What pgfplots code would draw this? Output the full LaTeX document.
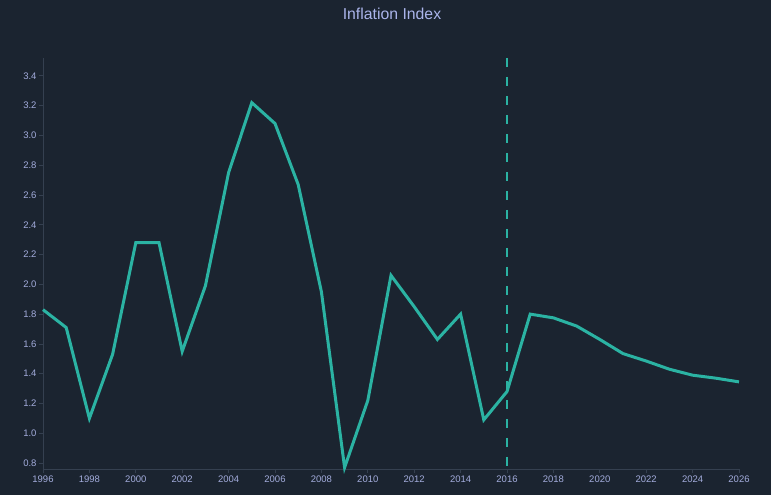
\documentclass[border=0pt]{standalone}
\usepackage{pgfplots}
\pgfplotsset{compat=1.18}
\usepackage{fontspec}
\setmainfont{Liberation Sans}
\definecolor{bg}{HTML}{1B2430}
\definecolor{lineteal}{HTML}{2BB3A3}
\definecolor{lav}{HTML}{A3ACDC}
\definecolor{titlec}{HTML}{AAB4EA}
\definecolor{axc}{HTML}{354050}
\begin{document}
\begin{tikzpicture}
\fill[bg] (0,0) rectangle (771bp,495bp);
\node[text=titlec, font=\fontsize{15.8bp}{17bp}\selectfont] at (392bp,481bp) {Inflation Index};
\begin{axis}[
  at={(43bp,26bp)}, anchor=south west,
  scale only axis, width=696bp, height=411bp,
  xmin=1996, xmax=2026, ymin=0.76, ymax=3.52,
  axis lines*=left,
  axis line style={axc, line width=0.8bp},
  xtick={1996,1998,...,2026},
  ytick={0.8,1.0,...,3.41},
  x tick label style={text=lav, font=\fontsize{9.5bp}{11bp}\selectfont, /pgf/number format/1000 sep={}, yshift=0.5bp},
  y tick label style={text=lav, font=\fontsize{9.5bp}{11bp}\selectfont, xshift=1bp},
  yticklabel style={/pgf/number format/fixed, /pgf/number format/fixed zerofill, /pgf/number format/precision=1},
  /pgf/number format/assume math mode=true,
  tick style={axc, line width=0.8bp},
  tickwidth=4bp,
  xtick pos=bottom, ytick pos=left,
  tick align=outside,
  clip=false,
]
\addplot[lineteal, line width=1.4bp, dash pattern=on 9.5bp off 9.5bp] coordinates {(2016,3.52) (2016,0.76)};
\addplot[lineteal, line width=3bp, line join=miter] coordinates {
(1996,1.83) (1997,1.71) (1998,1.10) (1999,1.53) (2000,2.28) (2001,2.28)
(2002,1.55) (2003,1.99) (2004,2.75) (2005,3.22) (2006,3.08) (2007,2.67)
(2008,1.95) (2009,0.77) (2010,1.22) (2011,2.06) (2012,1.85) (2013,1.63)
(2014,1.80) (2015,1.09) (2016,1.28) (2017,1.80) (2018,1.775) (2019,1.72)
(2020,1.63) (2021,1.535) (2022,1.485) (2023,1.43) (2024,1.39) (2025,1.37)
(2026,1.345)};
\end{axis}
\end{tikzpicture}
\end{document}
